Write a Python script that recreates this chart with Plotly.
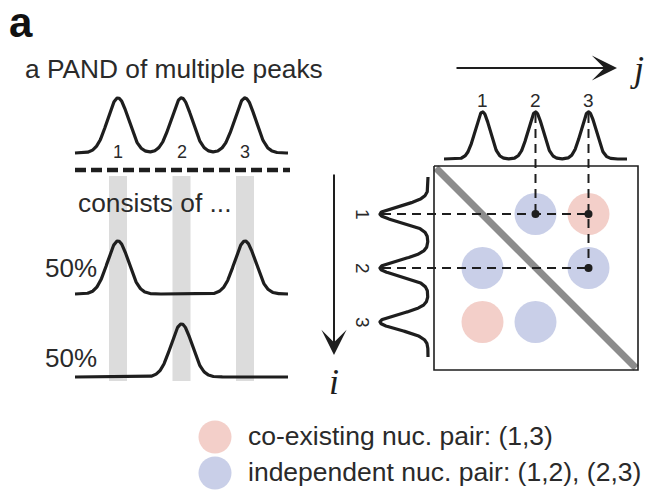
import numpy as np
import plotly.graph_objects as go

# ---------------- content ----------------
panel_letter = "a"
title_text = "a PAND of multiple peaks"
subtitle_text = "consists of ..."
peak_ids = [1, 2, 3]
peak_labels = ["1", "2", "3"]
component_shares = ["50%", "50%"]
component_members = [[1, 3], [2]]          # peaks carried by each component
pair_i = [1, 1, 2, 2, 3, 3]                # matrix row (i)
pair_j = [2, 3, 1, 3, 1, 2]                # matrix column (j)
pair_kind = ["indep", "coexist", "indep", "indep", "coexist", "indep"]
traced_i = [1, 1, 2]                        # pairs traced back to their peaks
traced_j = [2, 3, 3]
kind_names = ["coexist", "indep"]
kind_labels = ["co-existing nuc. pair: (1,3)",
               "independent nuc. pair: (1,2), (2,3)"]

# ---------------- styling / geometry ----------------
W, H = 650, 492
INK = "#1e1e1e"
TXT = "#2a2a2a"
SANS = "Liberation Sans, Arial, Helvetica, sans-serif"
SERIF = "Liberation Serif, DejaVu Serif, serif"
kind_color = {"coexist": "rgb(243,207,201)", "indep": "rgb(201,207,232)"}


def lx(p):      # left panel: peak centre
    return 54.5 + 63.5 * p


def rx(p):      # matrix column centre
    return 429.5 + 53 * p


def ry(p):      # matrix row centre
    return 160 + 54 * p


def profile(grid, centres, sigma):
    return sum(np.exp(-0.5 * ((grid - c) / sigma) ** 2) for c in centres)


fig = go.Figure()
shapes = []
ann = []


def line(x, y, width=3.2, color=INK, dash=None):
    fig.add_trace(go.Scatter(x=x, y=y, mode="lines", hoverinfo="skip",
                             line=dict(color=color, width=width, dash=dash,
                                       shape="linear")))


def text(x, y, s, size, color=TXT, family=SANS, angle=0, xanchor="center"):
    ann.append(dict(x=x, y=y, xref="x", yref="y", text=s, showarrow=False,
                    xanchor=xanchor, yanchor="middle", textangle=angle,
                    font=dict(size=size, color=color, family=family)))


# ---------------- left panel ----------------
for p in peak_ids:
    shapes.append(dict(type="rect", xref="x", yref="y", layer="below",
                       x0=lx(p) - 9, x1=lx(p) + 9, y0=176, y1=381,
                       fillcolor="#dcdcdc", line=dict(width=0)))

xs = np.linspace(75, 288, 500)
line(xs, 153 - 55 * profile(xs, [lx(p) for p in peak_ids], 10.5))
for p, lab in zip(peak_ids, peak_labels):
    text(lx(p), 151.5, lab, 18)

line([75, 290], [170, 170], width=4.5, dash="11px,5px")

comp_base = [294, 377]
comp_label_y = [268, 358]
for members, share, base, ly in zip(component_members, component_shares,
                                    comp_base, comp_label_y):
    line(xs, base - 53 * profile(xs, [lx(p) for p in members], 10.5))
    text(71, ly, share, 26)

text(21, 22, "<b>" + panel_letter + "</b>", 42, color="#111")
text(174, 69, title_text, 26.3)
text(76, 203, subtitle_text, 26.3, xanchor="left")

# ---------------- right panel: pair matrix ----------------
fig.add_trace(go.Scatter(
    x=[rx(j) for j in pair_j], y=[ry(i) for i in pair_i], mode="markers",
    hoverinfo="skip",
    marker=dict(size=42, color=[kind_color[k] for k in pair_kind],
                line=dict(width=0))))

# diagonal and frame
line([436, 636], [168, 368], width=7, color="#8c8c8c")
line([434, 638, 638, 434, 434], [166, 166, 370, 370, 166], width=1.6)

# guide lines from peaks to traced pairs
for i, j in zip(traced_i, traced_j):
    line([382, rx(j)], [ry(i), ry(i)], width=2, dash="9px,6px")
for j in sorted(set(traced_j)):
    last_i = max(i for i, jj in zip(traced_i, traced_j) if jj == j)
    line([rx(j), rx(j)], [114, ry(last_i)], width=2, dash="9px,6px")
fig.add_trace(go.Scatter(
    x=[rx(j) for j in traced_j], y=[ry(i) for i in traced_i], mode="markers",
    hoverinfo="skip", marker=dict(size=8, color=INK)))

# spectra along j (top) and i (left)
xr = np.linspace(444, 627, 500)
line(xr, 159 - 47 * profile(xr, [rx(p) for p in peak_ids], 7.5))
yr = np.linspace(177, 357, 500)
line(428 - 48 * profile(yr, [ry(p) for p in peak_ids], 7.8), yr)
for p, lab in zip(peak_ids, peak_labels):
    text(rx(p), 100, lab, 19)
    text(363, ry(p), lab, 19, angle=90)

# axis arrows
for (x0, y0, x1, y1) in [(455, 68, 617, 68), (334, 173, 334, 355)]:
    ann.append(dict(x=x1, y=y1, ax=x0, ay=y0, xref="x", yref="y",
                    axref="x", ayref="y", text="", showarrow=True,
                    arrowhead=3, arrowsize=2.1, arrowwidth=2,
                    arrowcolor=INK))
text(637, 69, "<i>j</i>", 36, color=INK, family=SERIF)
text(334, 382, "<i>i</i>", 36, color=INK, family=SERIF)

# ---------------- legend ----------------
leg_y = [437, 473]
fig.add_trace(go.Scatter(
    x=[215] * len(kind_names), y=leg_y, mode="markers", hoverinfo="skip",
    marker=dict(size=33, color=[kind_color[k] for k in kind_names],
                line=dict(width=0))))
for lab, y in zip(kind_labels, leg_y):
    text(246, y - 1, lab, 26.5, xanchor="left")

fig.update_layout(
    width=W, height=H, autosize=False,
    margin=dict(l=0, r=0, t=0, b=0),
    paper_bgcolor="white", plot_bgcolor="white",
    showlegend=False, shapes=shapes, annotations=ann,
    xaxis=dict(range=[0, W], visible=False, fixedrange=True),
    yaxis=dict(range=[H, 0], visible=False, fixedrange=True),
)

fig.write_html("out.html")
